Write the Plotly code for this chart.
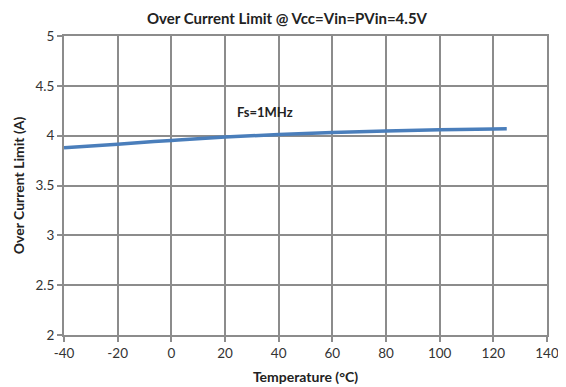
import plotly.graph_objects as go

temperature = [-40, -20, 0, 20, 40, 60, 80, 100, 120, 125]
ocl = [3.878, 3.915, 3.952, 3.986, 4.012, 4.032, 4.048, 4.060, 4.068, 4.07]

x_ticks = [-40, -20, 0, 20, 40, 60, 80, 100, 120, 140]
y_ticks = [2, 2.5, 3, 3.5, 4, 4.5, 5]
y_labels = ["2", "2.5", "3", "3.5", "4", "4.5", "5"]

grid = "#8c8c8c"
font = "Lato, 'Open Sans', sans-serif"

# page body has an 8px default margin; size figure to fill the remaining window
fig = go.Figure()
fig.add_trace(go.Scatter(x=temperature, y=ocl, mode="lines",
                         line=dict(color="#4a7ebb", width=3.5, shape="spline"),
                         showlegend=False))
fig.add_annotation(x=35, y=4.24, text="<b>Fs=1MHz</b>", showarrow=False,
                   font=dict(family=font, size=13, color="#222"))

fig.update_layout(
    width=558, height=379,
    margin=dict(l=56, r=19, t=28, b=52, autoexpand=False),
    paper_bgcolor="white", plot_bgcolor="white",
    title=dict(text="<b>Over Current Limit @ Vcc=Vin=PVin=4.5V</b>",
               x=0.5, xanchor="center", y=0.972, yanchor="middle",
               font=dict(family=font, size=15, color="#222")),
    font=dict(family=font, size=13.5, color="#333"),
    xaxis=dict(range=[-40, 140], tickvals=x_ticks, ticktext=[str(v) for v in x_ticks],
               showgrid=True, gridcolor=grid, gridwidth=2,
               showline=True, linecolor=grid, linewidth=2, mirror=True,
               ticks="outside", ticklen=5, tickcolor=grid, tickwidth=2,
               zeroline=False, automargin=False,
               title=dict(text="<b>Temperature (°C)</b>", standoff=12,
                          font=dict(family=font, size=14, color="#222"))),
    yaxis=dict(range=[2, 5], tickvals=y_ticks, ticktext=y_labels,
               showgrid=True, gridcolor=grid, gridwidth=2,
               showline=True, linecolor=grid, linewidth=2, mirror=True,
               ticks="outside", ticklen=5, tickcolor=grid, tickwidth=2,
               zeroline=False, automargin=False,
               title=dict(text="<b>Over Current Limit (A)</b>", standoff=8,
                          font=dict(family=font, size=14, color="#222"))),
)

fig.write_html("out.html")
